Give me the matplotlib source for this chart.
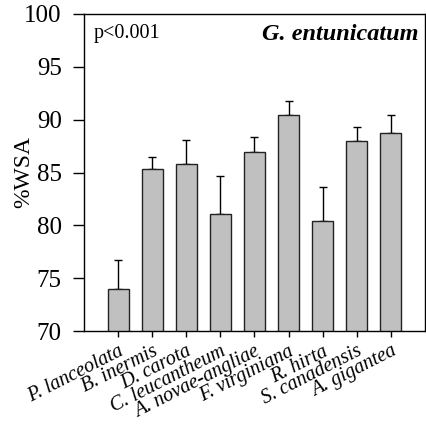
import matplotlib
matplotlib.use('Agg')
import matplotlib.pyplot as plt
import numpy as np

# ------------------------------------------------------------
# Data
# ------------------------------------------------------------
species = ['P. lanceolata', 'B. inermis', 'D. carota', 'C. leucantheum',
           'A. novae-angliae', 'F. virginiana', 'R. hirta', 'S. canadensis',
           'A. gigantea']
wsa = [74.0, 85.3, 85.8, 81.1, 86.9, 90.4, 80.4, 88.0, 88.7]
wsa_err = [2.7, 1.2, 2.3, 3.6, 1.5, 1.4, 3.2, 1.3, 1.7]
yticks = [70, 75, 80, 85, 90, 95, 100]

plt.rcParams['font.family'] = ['Liberation Serif', 'DejaVu Serif']

fig = plt.figure(figsize=(4.27, 4.25), dpi=100)
ax = fig.add_axes([84 / 427, 1 - 331 / 425, 341 / 427, 317 / 425])

x = np.arange(1, len(species) + 1)
ax.bar(x, wsa, width=0.62, color='#c0c0c0', edgecolor='#222222', linewidth=1.0,
       zorder=2)
ax.errorbar(x, wsa, yerr=[np.zeros(len(wsa)), wsa_err], fmt='none',
            ecolor='black', elinewidth=1.0, capsize=3, capthick=1.0, zorder=1)

ax.set_xlim(0, 10)
ax.set_ylim(70, 100)
ax.set_yticks(yticks)
ax.set_yticklabels([str(t) for t in yticks], fontsize=18)
ax.set_xticks(x)
ax.set_xticklabels(species, fontsize=14.5, style='italic', rotation=27,
                   ha='right', va='top', rotation_mode='anchor')
ax.tick_params(axis='y', direction='out', length=8, width=1.0, pad=8)
ax.tick_params(axis='x', direction='out', length=4, width=1.0, pad=4)
for s in ax.spines.values():
    s.set_linewidth(1.0)

ax.set_ylabel('%WSA', fontsize=17)
ax.yaxis.set_label_coords(-0.145, 0.5)

ax.text(0.027, 0.97, 'p<0.001', transform=ax.transAxes, fontsize=14.5,
        ha='left', va='top')
ax.text(0.98, 0.97, 'G. entunicatum', transform=ax.transAxes, fontsize=17.5,
        ha='right', va='top', style='italic', weight='bold')

fig.savefig('out.png', dpi=100)
